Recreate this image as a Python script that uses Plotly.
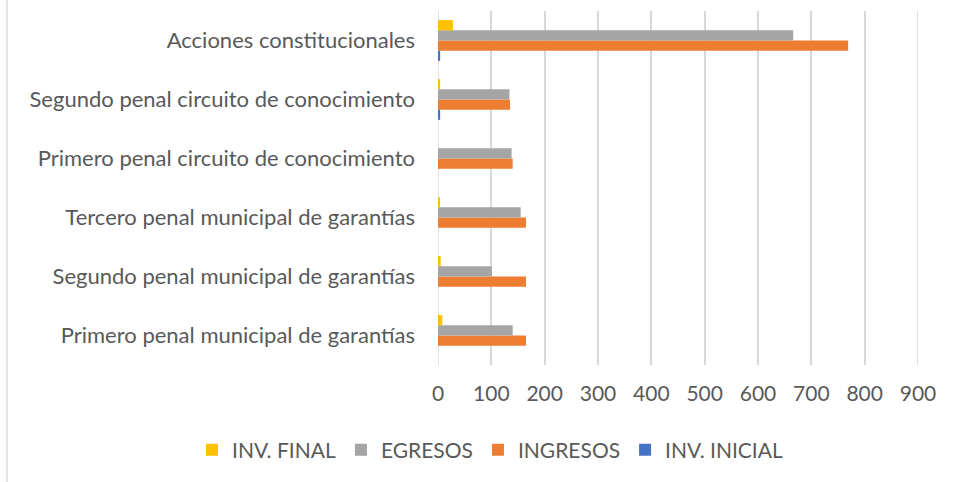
import plotly.graph_objects as go

categories = [
    "Primero penal municipal de garantías",
    "Segundo penal municipal de garantías",
    "Tercero penal municipal de garantías",
    "Primero penal circuito de conocimiento",
    "Segundo penal circuito de conocimiento",
    "Acciones constitucionales",
]
inv_inicial = [0, 0, 0, 0, 4, 4]
ingresos = [165, 165, 165, 140, 135, 769]
egresos = [140, 101, 155, 138, 134, 666]
inv_final = [8, 5, 3, 0, 4, 28]
x_ticks = [0, 100, 200, 300, 400, 500, 600, 700, 800, 900]

series = [
    ("INV. INICIAL", inv_inicial, "#4472C4"),
    ("INGRESOS", ingresos, "#ED7D31"),
    ("EGRESOS", egresos, "#A5A5A5"),
    ("INV. FINAL", inv_final, "#FFC000"),
]

FONT = "Lato"
TXT = "#595959"

fig = go.Figure()
for name, vals, col in series:
    fig.add_trace(go.Bar(
        y=categories, x=vals, name=name, orientation="h",
        marker=dict(color=col, line=dict(width=0)),
    ))

W, H = 965, 482
L, R, T, B = 438, 47, 11, 117
pw, ph = W - L - R, H - T - B

fig.update_layout(
    width=W, height=H,
    margin=dict(l=L, r=R, t=T, b=B, autoexpand=False),
    paper_bgcolor="white", plot_bgcolor="white",
    barmode="group", bargap=0.31, bargroupgap=0,
    font=dict(family=FONT, size=22, color=TXT),
    xaxis=dict(
        range=[x_ticks[0], x_ticks[-1]], tickvals=x_ticks, showgrid=True,
        gridcolor="#D9D9D9", gridwidth=1.5, zeroline=False,
        showline=False, ticks="", ticklabelstandoff=14,
        tickfont=dict(family=FONT, size=21, color=TXT), fixedrange=True,
    ),
    yaxis=dict(
        categoryorder="array", categoryarray=categories,
        showgrid=False, zeroline=False, showline=False, ticks="",
        ticklabelstandoff=22, fixedrange=True,
        tickfont=dict(family=FONT, size=22, color=TXT),
    ),
    legend=dict(
        orientation="h", traceorder="reversed",
        xref="paper", yref="paper",
        x=(192 - L) / pw, xanchor="left",
        y=-(450 - (H - B)) / ph, yanchor="middle",
        font=dict(family=FONT, size=21, color=TXT),
        bgcolor="rgba(0,0,0,0)",
    ),
    showlegend=True,
)

# value axis baseline and end gridline (gridline-coloured)
for xv in (x_ticks[0], x_ticks[-1]):
    fig.add_shape(type="line", xref="x", yref="paper", x0=xv, x1=xv, y0=0, y1=1,
                  line=dict(color="#D9D9D9", width=1.5), layer="below")
# chart-area left border
fig.add_shape(type="line", xref="paper", yref="paper",
              x0=(7 - L) / pw, x1=(7 - L) / pw,
              y0=(H - B) / ph, y1=-(B) / ph,
              line=dict(color="#D9D9D9", width=1.5))

fig.write_html("out.html", config={"displayModeBar": False},
               post_script="document.body.style.margin='0';document.body.style.padding='0';")
